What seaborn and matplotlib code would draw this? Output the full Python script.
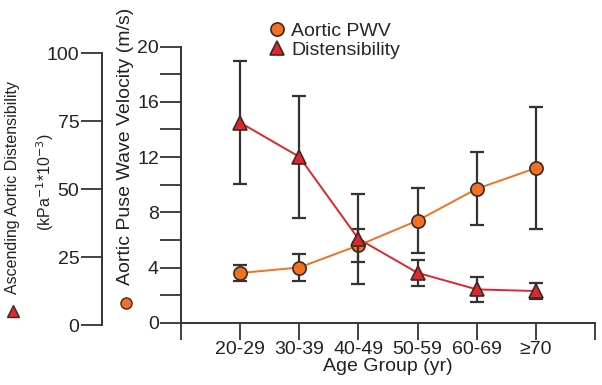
import numpy as np
import pandas as pd
import seaborn as sns
import matplotlib.pyplot as plt
from matplotlib.lines import Line2D

sns.set_style("ticks")
plt.rcParams['font.family'] = ['Liberation Sans', 'DejaVu Sans']

# values
ages = ["20-29", "30-39", "40-49", "50-59", "60-69", "≥70"]
pwv = [3.6, 4.0, 5.6, 7.4, 9.7, 11.2]
pwv_err = [0.6, 0.95, 1.2, 2.35, 2.65, 4.4]
dist = [74.5, 61.9, 31.7, 19.2, 13.1, 12.5]
dist_err = [22.6, 22.5, 16.5, 4.9, 4.6, 3.0]

df = pd.DataFrame({"pos": np.arange(len(ages)), "age": ages,
                   "pwv": pwv, "pwv_err": pwv_err,
                   "dist": dist, "dist_err": dist_err})

orange = "#F37021"
red = "#E0252B"
edge = "#3b2a2a"
grey = "#333333"

fig = plt.figure(figsize=(6.02, 3.85), dpi=100)
W, H = 602, 385
# main axis (PWV)
ax = fig.add_axes([181 / W, 1 - 322.7 / H, (595 - 181) / W, (322.7 - 46.7) / H])
# distensibility axis, own vertical scale
ax2 = fig.add_axes([181 / W, 1 - 325 / H, (595 - 181) / W, (325 - 53.3) / H])
ax2.patch.set_alpha(0)

# PWV
ax.errorbar(df["pos"], df["pwv"], yerr=df["pwv_err"], fmt="none", ecolor=grey,
            elinewidth=1.6, capsize=5, capthick=1.6, zorder=2)
sns.lineplot(data=df, x="pos", y="pwv", ax=ax, color=orange, lw=1.4,
             marker="o", markersize=9.5, markerfacecolor=orange,
             markeredgecolor=edge, markeredgewidth=1.2, zorder=3)

# Distensibility
ax2.errorbar(df["pos"], df["dist"], yerr=df["dist_err"], fmt="none", ecolor=grey,
             elinewidth=1.6, capsize=5, capthick=1.6, zorder=2)
sns.lineplot(data=df, x="pos", y="dist", ax=ax2, color=red, lw=1.4,
             marker="^", markersize=10, markerfacecolor=red,
             markeredgecolor=edge, markeredgewidth=1.2, zorder=3)

for a in (ax, ax2):
    a.set_xlim(-1, 6)
    a.set_xlabel("")
    a.set_ylabel("")

ax.set_ylim(0, 20)
ax.set_yticks([0, 4, 8, 12, 16, 20])
ax.set_yticks([2, 6, 10, 14, 18], minor=True)
ax.set_xticks(range(-1, 7))
ax.set_xticklabels([""] + ages + [""])
for s in ["top", "right"]:
    ax.spines[s].set_visible(False)
for s in ["left", "bottom"]:
    ax.spines[s].set_color(grey)
    ax.spines[s].set_linewidth(1.4)
ax.tick_params(axis="y", which="both", length=15, width=1.3, color=grey,
               labelsize=14, pad=1, labelcolor="#222222")
ax.tick_params(axis="x", length=12, width=1.3, color=grey, labelsize=14,
               pad=1.5, labelcolor="#222222")
ax.set_xlabel("Age Group (yr)", fontsize=14, color="#222222", labelpad=0)

ax2.set_ylim(0, 100)
ax2.set_yticks([0, 25, 50, 75, 100])
ax2.set_xticks([])
for s in ["top", "right", "bottom"]:
    ax2.spines[s].set_visible(False)
ax2.spines["left"].set_position(("outward", (181 - 101.7) * 0.72))
ax2.spines["left"].set_color(grey)
ax2.spines["left"].set_linewidth(1.4)
ax2.tick_params(axis="y", length=15, width=1.3, color=grey, labelsize=14,
                pad=1, labelcolor="#222222")

# axis titles with marker keys
fig.text(126 / W, 1 - 146 / H, "Aortic Puse Wave Velocity (m/s)", rotation=90,
         fontsize=14, ha="center", va="center", color="#222222")
fig.add_artist(Line2D([126 / W], [1 - 303 / H], marker="o", markersize=8,
                      markerfacecolor=orange, markeredgecolor=edge,
                      markeredgewidth=1, transform=fig.transFigure))
fig.text(13 / W, 1 - 187 / H, "Ascending Aortic Distensibility", rotation=90,
         fontsize=11.5, ha="center", va="center", color="#222222")
fig.text(45 / W, 1 - 182 / H, r"(kPa$^{-1}$*10$^{-3}$)", rotation=90,
         fontsize=11.5, ha="center", va="center", color="#222222")
fig.add_artist(Line2D([13 / W], [1 - 311 / H], marker="^", markersize=8,
                      markerfacecolor=red, markeredgecolor=edge,
                      markeredgewidth=1, transform=fig.transFigure))

# legend
handles = [Line2D([], [], ls="none", marker="o", markersize=9.5, markerfacecolor=orange,
                  markeredgecolor=edge, markeredgewidth=1.2),
           Line2D([], [], ls="none", marker="^", markersize=9.5, markerfacecolor=red,
                  markeredgecolor=edge, markeredgewidth=1.2)]
fig.legend(handles, ["Aortic PWV", "Distensibility"], loc="upper left",
           bbox_to_anchor=(265 / W, 1 - 22 / H), frameon=False, fontsize=14,
           handletextpad=0.15, handlelength=1.2, labelspacing=0.1,
           borderpad=0, borderaxespad=0)

fig.savefig("out.png", dpi=100)
